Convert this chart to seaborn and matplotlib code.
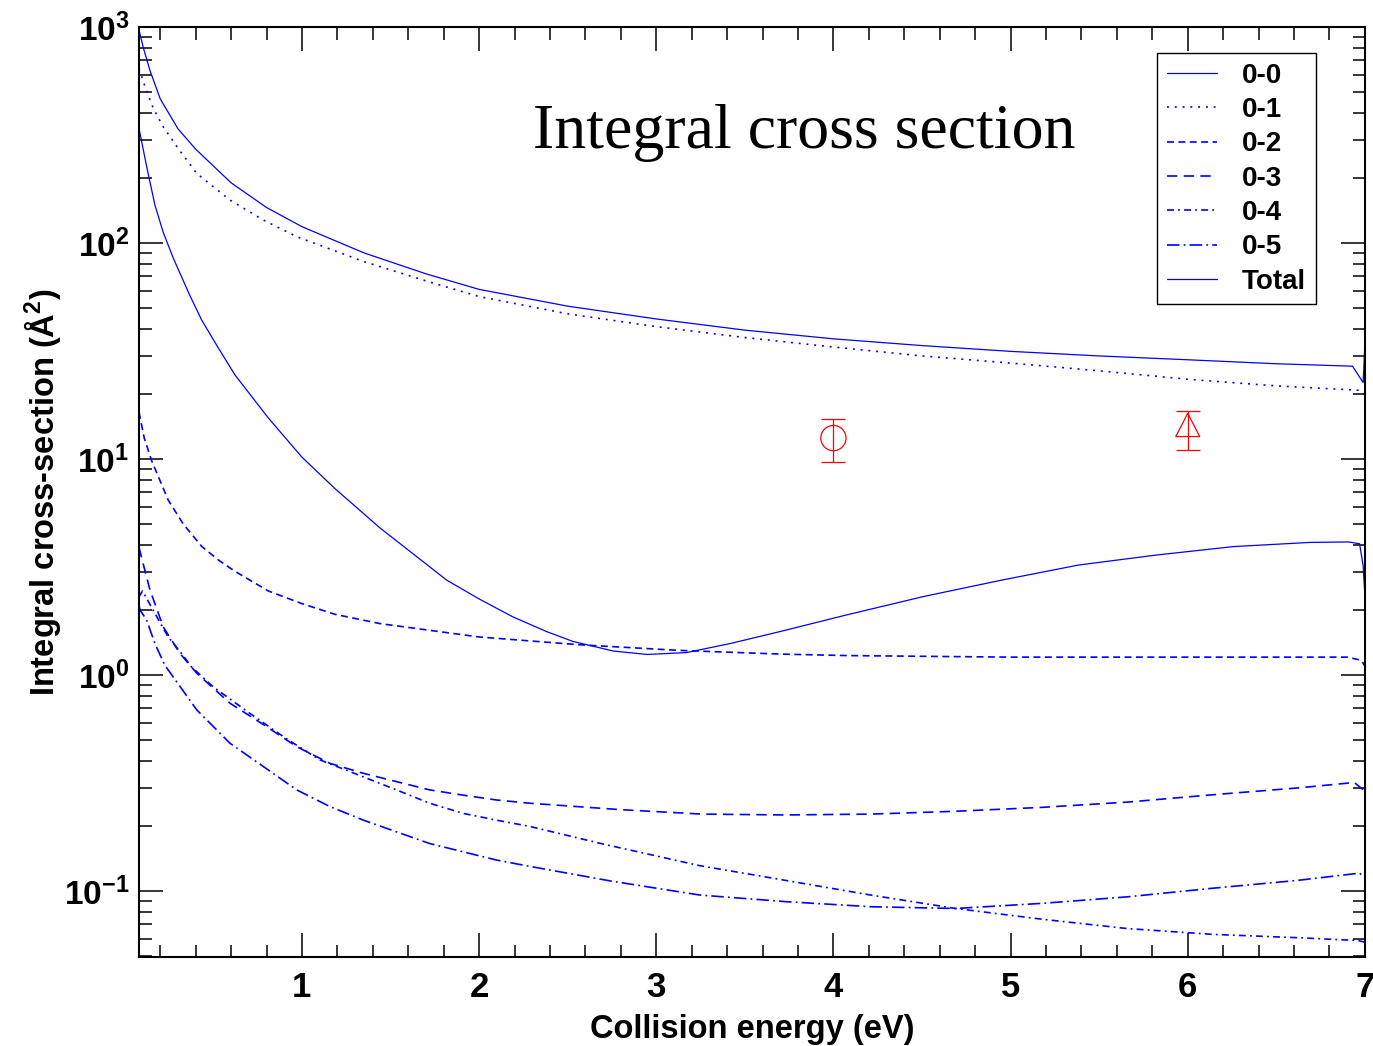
import numpy as np
import pandas as pd
import matplotlib
matplotlib.use("Agg")
import matplotlib.pyplot as plt
import seaborn as sns
from matplotlib.ticker import MultipleLocator, LogLocator, NullFormatter, FixedLocator

# ---------------- data ----------------
x_total = [0.08, 0.105, 0.142, 0.2, 0.3, 0.4, 0.6, 0.8, 1.0, 1.35, 1.7, 2.0, 2.5,
           3.0, 3.5, 4.0, 4.5, 5.0, 5.5, 6.0, 6.5, 6.93, 6.99, 7.0]
y_total = [970, 800, 630, 465, 338, 272, 190, 146, 119, 90, 72, 61, 51,
           44.5, 39.5, 36, 33.5, 31.5, 30, 28.8, 27.6, 26.9, 22.6, 34]

x_01 = [0.08, 0.095, 0.123, 0.161, 0.217, 0.3, 0.406, 0.594, 0.78, 0.97, 1.35, 1.72,
        2.0, 2.5, 3.0, 3.5, 4.0, 4.5, 5.0, 5.5, 6.0, 6.5, 6.97, 7.0]
y_01 = [640, 590, 505, 420, 345, 275, 210, 158, 128, 107, 82, 66,
        56.5, 47, 41, 36.5, 33, 30, 27.8, 25.6, 23.4, 21.8, 20.8, 20.0]

x_00 = [0.08, 0.124, 0.17, 0.217, 0.274, 0.33, 0.368, 0.434, 0.52, 0.622, 0.81, 1.0,
        1.186, 1.44, 1.817, 2.0, 2.19, 2.38, 2.53, 2.76, 2.95, 3.17, 3.42, 3.7, 4.077,
        4.51, 4.95, 5.384, 5.82, 6.256, 6.69, 6.91, 6.97, 6.99, 6.998, 7.0]
y_00 = [340, 225, 150, 112, 85, 67, 57, 44, 33.5, 24.5, 15.5, 10.2,
        7.3, 4.8, 2.75, 2.25, 1.86, 1.59, 1.43, 1.29, 1.245, 1.27, 1.40, 1.59, 1.90,
        2.31, 2.75, 3.23, 3.59, 3.93, 4.11, 4.13, 4.05, 3.2, 2.5, 7.4]

x_02 = [0.08, 0.11, 0.152, 0.245, 0.33, 0.434, 0.53, 0.622, 0.81, 1.0, 1.186, 1.44,
        2.0, 2.57, 3.13, 3.7, 4.08, 5.0, 6.0, 6.9, 6.98, 7.0]
y_02 = [16.5, 12.5, 9.8, 6.46, 5.0, 3.94, 3.4, 3.02, 2.45, 2.14, 1.91, 1.73,
        1.50, 1.38, 1.30, 1.25, 1.23, 1.21, 1.21, 1.21, 1.17, 1.1]

x_03 = [0.08, 0.142, 0.217, 0.311, 0.406, 0.594, 0.782, 0.97, 1.158, 1.345, 1.533,
        1.72, 1.908, 2.096, 2.284, 2.8, 3.26, 3.73, 4.21, 4.69, 5.18, 5.66, 6.14,
        6.62, 6.94, 7.0]
y_03 = [3.9, 2.48, 1.67, 1.26, 1.02, 0.74, 0.59, 0.466, 0.39, 0.351, 0.321,
        0.294, 0.278, 0.264, 0.255, 0.238, 0.227, 0.225, 0.227, 0.234, 0.244, 0.258,
        0.279, 0.30, 0.318, 0.29]

x_04 = [0.08, 0.1, 0.17, 0.245, 0.32, 0.377, 0.5, 0.7, 0.9, 1.1, 1.345, 1.533, 1.72,
        1.908, 2.096, 2.287, 2.7, 3.246, 3.73, 4.21, 4.69, 5.18, 5.66, 6.14, 6.62,
        6.96, 7.0]
y_04 = [2.3, 2.45, 1.93, 1.50, 1.26, 1.09, 0.88, 0.67, 0.515, 0.405, 0.338, 0.294,
        0.255, 0.229, 0.213, 0.199, 0.165, 0.131, 0.112, 0.0958, 0.083, 0.074, 0.067,
        0.063, 0.0608, 0.059, 0.058]

x_05 = [0.08, 0.086, 0.123, 0.17, 0.226, 0.406, 0.594, 0.782, 0.97, 1.158, 1.346,
        1.533, 1.72, 1.908, 2.1, 2.287, 2.75, 3.246, 3.73, 4.21, 4.69, 5.18, 5.66,
        6.14, 6.62, 6.97, 7.0]
y_05 = [2.1, 2.0, 1.80, 1.40, 1.11, 0.69, 0.483, 0.377, 0.294, 0.246, 0.213,
        0.188, 0.166, 0.152, 0.139, 0.13, 0.111, 0.0958, 0.0893, 0.0846, 0.083,
        0.0877, 0.094, 0.103, 0.112, 0.121, 0.115]

series_labels = ["0-0", "0-1", "0-2", "0-3", "0-4", "0-5", "Total"]

exp_energy = [4.0, 6.0]
exp_sigma = [12.5, 13.8]
exp_err = [2.85, 2.8]

x_tick_values = [1, 2, 3, 4, 5, 6, 7]
x_tick_labels = ["1", "2", "3", "4", "5", "6", "7"]

# ---------------- style ----------------
sns.set_theme(style="ticks")
plt.rcParams["font.family"] = ["Liberation Sans", "DejaVu Sans"]
plt.rcParams["font.weight"] = "bold"
plt.rcParams["lines.scale_dashes"] = False
plt.rcParams["mathtext.default"] = "regular"
plt.rcParams["axes.unicode_minus"] = False
for key in ["text.color", "axes.labelcolor", "xtick.color", "ytick.color",
            "axes.edgecolor"]:
    plt.rcParams[key] = "black"

fig = plt.figure(figsize=(13.73, 10.46), dpi=100)
ax = fig.add_axes([0.1012, 0.0851, 0.8929, 0.8891])
ax.set_yscale("log")

blue = "#0000ff"
series = {
    "0-0": (x_00, y_00, "-", 0.9),
    "0-1": (x_01, y_01, (0, (1.4, 4.2)), 1.2),
    "0-2": (x_02, y_02, (0, (5.0, 3.2)), 1.2),
    "0-3": (x_03, y_03, (0, (7.5, 4.5)), 1.2),
    "0-4": (x_04, y_04, (0, (5.0, 3.0, 1.3, 3.0)), 1.2),
    "0-5": (x_05, y_05, (0, (9.0, 3.0, 1.3, 3.0)), 1.2),
    "Total": (x_total, y_total, "-", 0.9),
}
for lab in series_labels:
    xs, ys, ls, lw = series[lab]
    sns.lineplot(x=xs, y=ys, ax=ax, color=blue, linestyle=ls, linewidth=lw,
                 label=lab, estimator=None, sort=False, legend=True)

# experimental points
ax.errorbar(exp_energy, exp_sigma, yerr=exp_err, fmt="none", ecolor="red",
            elinewidth=0.9, capsize=8.5, capthick=0.9, zorder=3)
sns.scatterplot(x=exp_energy[:1], y=exp_sigma[:1], ax=ax, marker="o", s=330,
                facecolors="none", edgecolor="red", linewidth=0.9, zorder=4,
                legend=False)
tri = [(0, 1.0), (-0.77, -0.5), (0.77, -0.5), (0, 1.0)]
sns.scatterplot(x=exp_energy[1:], y=exp_sigma[1:], ax=ax, marker=tri, s=500,
                facecolors="none", edgecolor="red", linewidth=0.9, zorder=4,
                legend=False)

ax.set_xlim(0.08, 7.0)
ax.set_ylim(0.0495, 1000)

ax.xaxis.set_major_locator(FixedLocator(x_tick_values))
ax.set_xticklabels(x_tick_labels)
ax.xaxis.set_minor_locator(MultipleLocator(0.2))
ax.yaxis.set_major_locator(LogLocator(base=10, numticks=20))
ax.yaxis.set_minor_locator(LogLocator(base=10, subs=np.arange(2, 10), numticks=50))
ax.yaxis.set_minor_formatter(NullFormatter())

ax.tick_params(which="both", direction="in", top=True, right=True,
               colors="black", width=1.1)
ax.tick_params(which="major", length=17, labelsize=24)
ax.tick_params(which="minor", length=9)
ax.tick_params(axis="x", which="major", pad=10, labelsize=25)
ax.tick_params(axis="y", which="major", pad=7)
for sp in ax.spines.values():
    sp.set_visible(True)
    sp.set_linewidth(1.5)
    sp.set_color("black")

ax.set_xlabel("Collision energy (eV)", fontsize=23.5, fontweight="bold")
ax.set_ylabel("Integral cross-section (Å$^{\\mathregular{2}}$)", fontsize=23.5,
              fontweight="bold")
ax.xaxis.set_label_coords(0.5, -0.061)
ax.yaxis.set_label_coords(-0.062, 0.5)

ax.text(0.543, 0.886, "Integral cross section", transform=ax.transAxes,
        ha="center", va="center", fontsize=46, fontweight="normal",
        family="Liberation Serif", color="black")

leg = ax.legend(loc="upper right", bbox_to_anchor=(0.960, 0.972), fontsize=20,
                frameon=True, fancybox=False, framealpha=1, edgecolor="black",
                handlelength=1.8, handletextpad=0.9, labelspacing=0.3,
                borderpad=0.35, borderaxespad=0)
leg.get_frame().set_linewidth(1.0)

fig.savefig("out.png", dpi=100)
